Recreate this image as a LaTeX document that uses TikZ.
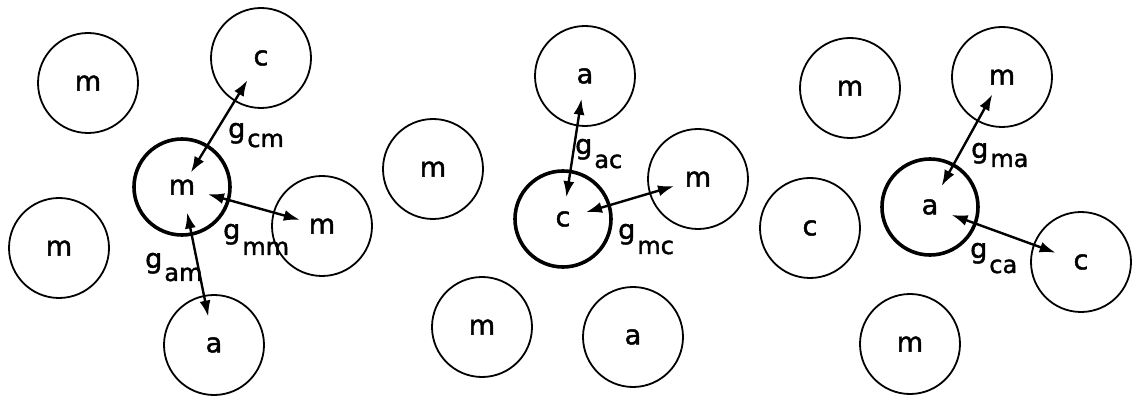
\documentclass[tikz,border=0pt]{standalone}
\usepackage{fontspec}
\setmainfont{DejaVu Sans}
\newfontfamily\lettering[FakeBold=1.6]{DejaVu Sans}
\usetikzlibrary{arrows.meta}

\newcommand{\gsub}[2][11pt]{{\fontsize{27}{27}\selectfont g}\kern2pt\raisebox{-#1}{#2}}

\begin{document}
\begin{tikzpicture}[x=1pt,y=-1pt,
  atom/.style={draw,circle,line width=1.8pt,minimum size=100pt,inner sep=0pt,
    font=\lettering\fontsize{27}{27}\selectfont},
  core/.style={atom,line width=3.6pt,minimum size=96pt},
  arr/.style={{Latex[length=16pt,width=11pt]}-{Latex[length=16pt,width=11pt]},
    line width=2.4pt,shorten <=23pt,shorten >=24pt},
  lbl/.style={anchor=base west,inner sep=0pt,font=\lettering\fontsize{24}{24}\selectfont}
]
\useasboundingbox (0,0) rectangle (1133,398);

% left group: m in the middle
\node[core] (core1) at (182,187) {m};
\node[atom] (mtl1) at (88,83) {m};
\node[atom] (ctop1) at (261,58) {c};
\node[atom] (mrt1) at (322,226) {m};
\node[atom] (mlf1) at (59,248) {m};
\node[atom] (abot1) at (214,345) {a};
\draw[arr,shorten <=17pt,shorten >=26pt] (core1.center) -- (ctop1.center);
\draw[arr,shorten <=27pt,shorten >=23pt] (core1.center) -- (mrt1.center);
\draw[arr,shorten <=26pt,shorten >=29pt] (core1.center) -- (abot1.center);
\node[lbl] (gcm) at (228,138) {\gsub[9pt]{cm}};
\node[lbl] (gmm) at (223,239) {\gsub[16pt]{mm}};
\node[lbl] (gam) at (145,268) {\gsub[13pt]{am}};

% middle group: c in the middle
\node[core] (core2) at (563,219) {c};
\node[atom] (atop2) at (585,76) {a};
\node[atom] (mlf2) at (433,169) {m};
\node[atom] (mrt2) at (698,179) {m};
\node[atom] (mbot2) at (482,327) {m};
\node[atom] (abot2) at (633,337) {a};
\draw[arr,shorten <=22pt,shorten >=23pt] (core2.center) -- (atop2.center);
\draw[arr,shorten <=24pt,shorten >=25pt] (core2.center) -- (mrt2.center);
\node[lbl] (gac) at (575,154) {\gsub[14pt]{ac}};
\node[lbl] (gmc) at (618,239) {\gsub[15pt]{mc}};

% right group: a in the middle
\node[core] (core3) at (930,207) {a};
\node[atom] (mtl3) at (850,88) {m};
\node[atom] (mtr3) at (1002,77) {m};
\node[atom] (clf3) at (810,228) {c};
\node[atom] (crt3) at (1081,262) {c};
\node[atom] (mbot3) at (910,344) {m};
\draw[arr,shorten <=24pt,shorten >=20pt] (core3.center) -- (mtr3.center);
\draw[arr,shorten <=23pt,shorten >=27pt] (core3.center) -- (crt3.center);
\node[lbl] (gma) at (971,158) {\gsub[9pt]{ma}};
\node[lbl] (gca) at (970,258) {\gsub[15pt]{ca}};
\end{tikzpicture}
\end{document}
